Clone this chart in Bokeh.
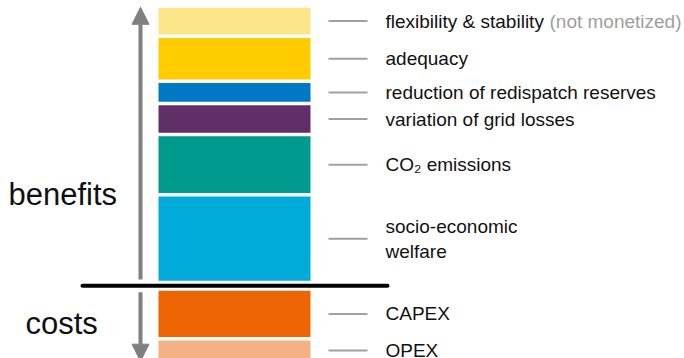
import numpy as np
from bokeh.plotting import figure
from bokeh.models import Range1d, Arrow, NormalHead, ColumnDataSource
from bokeh.core.properties import value
from bokeh.embed import file_html
from bokeh.resources import INLINE

# ---- data (heights in chart units, stacked from the baseline) ----
benefit_labels = ["socio-economic\nwelfare", "CO\u2082 emissions", "variation of grid losses",
                  "reduction of redispatch reserves", "adequacy", "flexibility & stability"]
benefit_values = [87.8, 60.3, 31.0, 22.2, 45.1, 30.2]
benefit_colors = ["#00ABD9", "#009A8F", "#612F67", "#0079C5", "#FFCC00", "#FDE68A"]

cost_labels = ["CAPEX", "OPEX"]
cost_values = [49.8, 23.4]
cost_colors = ["#ED6402", "#F4B183"]

note_text = "(not monetized)"
group_labels = ["benefits", "costs"]

# ---- layout constants ----
W, H = 684, 358
FONT = "Liberation Sans"
PAD = 1.8          # half of the white gap between stacked blocks
OFFSET = 3.2       # distance of each stack from the baseline
BAR_L, BAR_R = 158, 310
TICK_X0, TICK_X1 = 328, 367
LABEL_X = 385

p = figure(width=W, height=H, output_backend="svg", toolbar_location=None,
           x_range=Range1d(0, W), y_range=Range1d(-72.7, 285.3),
           min_border=0, outline_line_color=None)
p.axis.visible = False
p.grid.visible = False
p.background_fill_color = "white"
p.border_fill_color = "white"

# benefits stack (upward)
b_top = OFFSET + np.cumsum(benefit_values)
b_bot = b_top - np.array(benefit_values)
b_mid = (b_top + b_bot) / 2
src_b = ColumnDataSource(dict(bottom=b_bot + PAD, top=b_top - PAD, color=benefit_colors,
                              mid=b_mid, label=benefit_labels))
p.quad(left=BAR_L, right=BAR_R, bottom="bottom", top="top", fill_color="color",
       line_color=None, source=src_b)

# costs stack (downward)
c_bot = -OFFSET - np.cumsum(cost_values)
c_top = c_bot + np.array(cost_values)
c_mid = (c_top + c_bot) / 2
src_c = ColumnDataSource(dict(bottom=c_bot + PAD, top=c_top - PAD, color=cost_colors,
                              mid=c_mid, label=cost_labels))
p.quad(left=BAR_L, right=BAR_R, bottom="bottom", top="top", fill_color="color",
       line_color=None, source=src_c)

# leader ticks and labels
for src in (src_b, src_c):
    p.segment(x0=TICK_X0, x1=TICK_X1, y0="mid", y1="mid", line_color="#A0A0A0",
              line_width=2, source=src)
    p.text(x=LABEL_X, y="mid", text="label", text_font=value(FONT), text_font_size="19px",
           text_color="#111111", text_baseline="middle", text_align="left",
           text_line_height=1.2, source=src)

# grey "(not monetized)" note after the top label
p.text(x=[549], y=[b_mid[-1]], text=[note_text], text_font=value(FONT), text_font_size="19px",
       text_color="#9E9E9E", text_baseline="middle", text_align="left")

# baseline
p.segment(x0=[82], x1=[387], y0=[0], y1=[0], line_color="black", line_width=4,
          line_cap="round")

# arrows
grey = "#808080"
p.add_layout(Arrow(end=NormalHead(size=17, fill_color=grey, line_color=grey, line_width=1),
                   x_start=140, y_start=6.3, x_end=140, y_end=b_top[-1] - PAD + 0.5,
                   line_color=grey, line_width=4))
p.add_layout(Arrow(end=NormalHead(size=17, fill_color=grey, line_color=grey, line_width=1),
                   x_start=140, y_start=-6.4, x_end=140, y_end=c_bot[-1] + 1.0,
                   line_color=grey, line_width=4))

# group labels
p.text(x=[8, 25], y=[91.2, -37.8], text=group_labels, text_font=value(FONT),
       text_font_size="31px", text_color="#111111", text_baseline="middle",
       text_align="left")

open("out.html", "w").write(file_html(p, INLINE))
